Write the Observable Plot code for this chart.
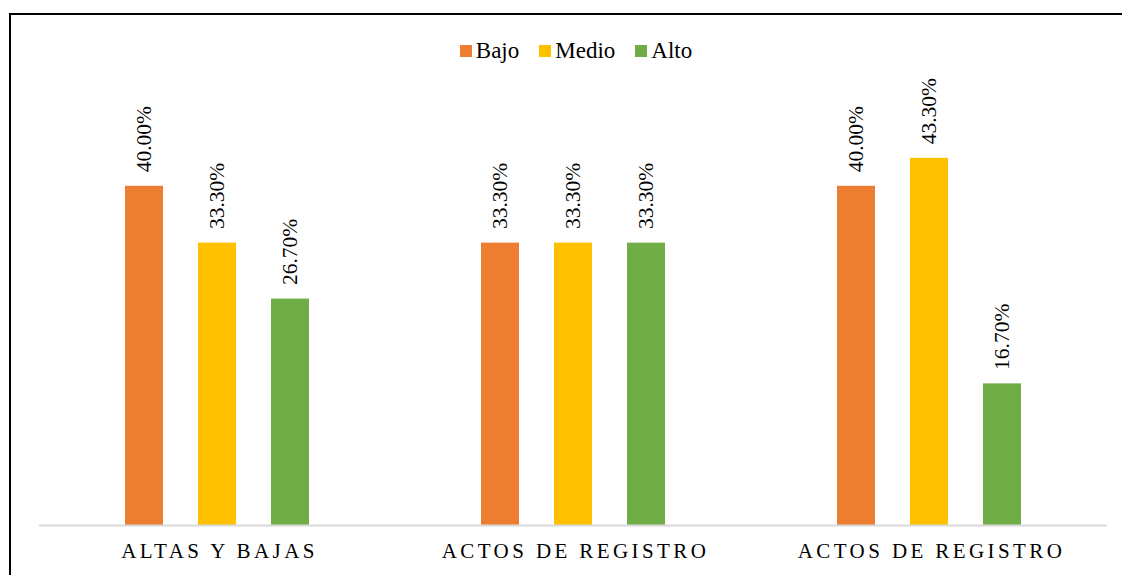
<!DOCTYPE html>
<html>
<head>
<meta charset="utf-8">
<script src="https://cdn.jsdelivr.net/npm/d3@7"></script>
<script src="https://cdn.jsdelivr.net/npm/@observablehq/plot@0.6"></script>
<style>
  html, body { margin: 0; padding: 0; background: #fff; }
  #wrap { position: relative; width: 1122px; height: 575px; overflow: hidden; font-family: "Liberation Serif", "Times New Roman", serif; }
  #border { position: absolute; left: 9px; top: 13px; width: 1200px; height: 700px; border-left: 2px solid #000; border-top: 2px solid #000; }
  #legend { position: absolute; top: 38px; left: 0; width: 1122px; display: flex; justify-content: center; padding-left: 30px; box-sizing: border-box; font-size: 23px; color: #000; }
  .item { display: flex; align-items: center; margin: 0 10px; }
  .sw { width: 12px; height: 12px; margin-right: 4px; }
  #chart { position: absolute; left: 0; top: 0; }
  #chart svg, #chart svg text { font-family: "Liberation Serif", "Times New Roman", serif !important; }
  #chart g[aria-label="fx-axis tick label"] text { letter-spacing: 3.4px; font-size: 21px; }
</style>
</head>
<body>
<div id="wrap">
  <div id="border"></div>
  <div id="chart"></div>
  <div id="legend"></div>
</div>
<script>
const categories = ["ALTAS Y BAJAS", "ACTOS DE REGISTRO", "ACTOS DE REGISTRO"];
const series = ["Bajo", "Medio", "Alto"];
const bajo = [0.40, 0.333, 0.40];
const medio = [0.333, 0.333, 0.433];
const alto = [0.267, 0.333, 0.167];
const colors = ["#ED7D31", "#FFC000", "#70AD47"];

const seriesValues = [bajo, medio, alto];
const data = [];
categories.forEach((c, i) => {
  series.forEach((s, j) => {
    data.push({group: i, series: s, value: seriesValues[j][i]});
  });
});

const font = '"Liberation Serif", "Times New Roman", serif';

const chart = Plot.plot({
  width: 1122,
  height: 575,
  marginLeft: 39,
  marginRight: 15,
  marginTop: 101,
  marginBottom: 50,
  style: {fontFamily: font, background: "transparent", overflow: "visible"},
  fx: {domain: [0, 1, 2], padding: 0, label: null},
  x: {domain: series, paddingInner: 0.483, paddingOuter: 1.161, axis: null},
  y: {domain: [0, 0.5], axis: null},
  color: {domain: series, range: colors},
  marks: [
    Plot.barY(data, {fx: "group", x: "series", y: "value", fill: "series"}),
    Plot.ruleY([0], {stroke: "#D9D9D9", strokeWidth: 2}),
    Plot.text(data, {
      fx: "group", x: "series", y: "value",
      text: d => (d.value * 100).toFixed(2) + "%",
      rotate: -90, textAnchor: "start", dy: -14,
      fontSize: 21.5, fill: "#000", fontFamily: font
    }),
    Plot.axisFx({
      anchor: "bottom", tickSize: 0, tickPadding: 18,
      tickFormat: i => categories[i], label: null,
      fontSize: 21, fill: "#000", fontFamily: font, dx: 2
    })
  ]
});
document.getElementById("chart").appendChild(chart);

const legend = document.getElementById("legend");
series.forEach((s, j) => {
  const item = document.createElement("div");
  item.className = "item";
  const sw = document.createElement("div");
  sw.className = "sw";
  sw.style.background = colors[j];
  const t = document.createElement("span");
  t.textContent = s;
  item.appendChild(sw);
  item.appendChild(t);
  legend.appendChild(item);
});
</script>
</body>
</html>
